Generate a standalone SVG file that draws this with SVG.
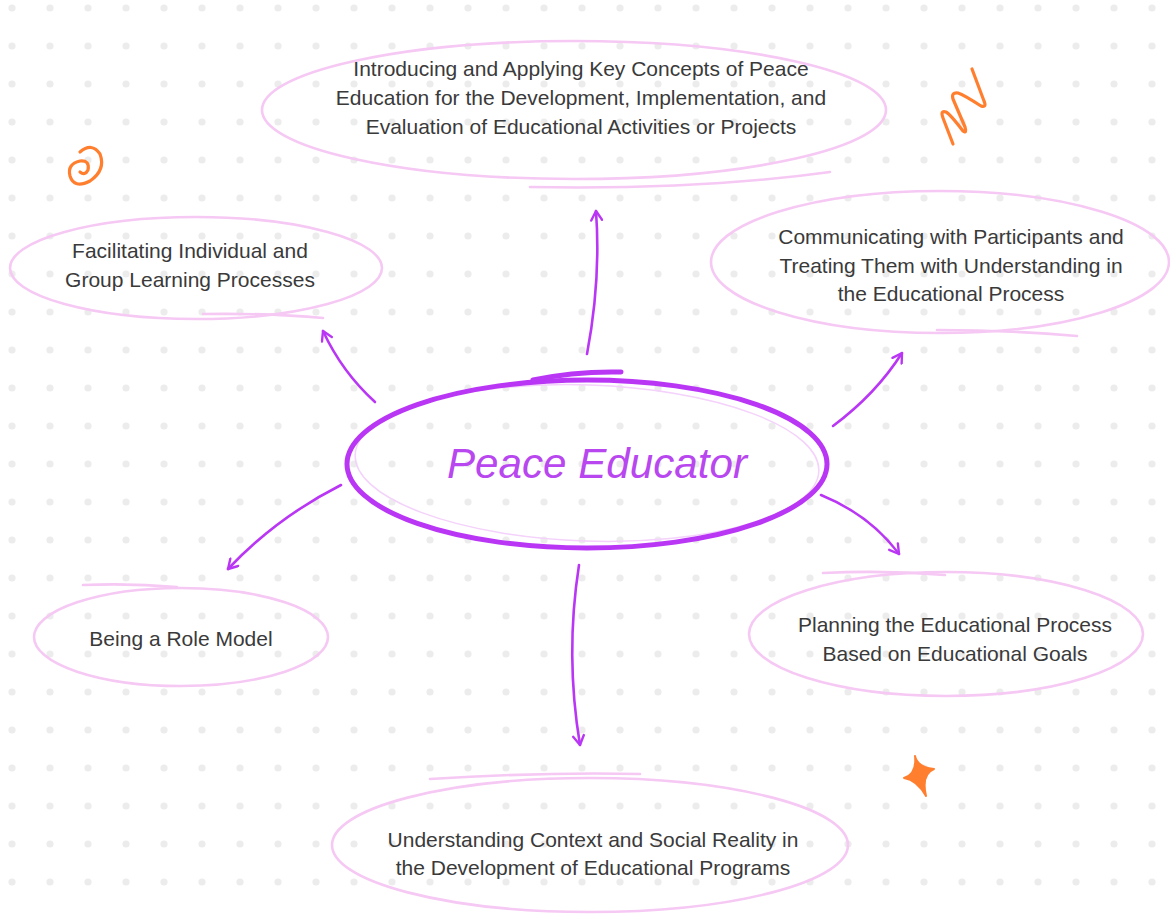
<svg xmlns="http://www.w3.org/2000/svg" width="1170" height="914" viewBox="0 0 1170 914">
<defs>
<pattern id="dots" patternUnits="userSpaceOnUse" x="-7" y="-11" width="38" height="38">
<circle cx="19" cy="19" r="3.6" fill="#ececec"/>
</pattern>
<marker id="arr" viewBox="0 0 12 12" refX="10" refY="6" markerWidth="13" markerHeight="13" markerUnits="userSpaceOnUse" orient="auto">
<path d="M1.5,1 L10,6 L1.5,11" fill="none" stroke="#b936f5" stroke-width="2.2" stroke-linecap="round" stroke-linejoin="round"/>
</marker>
<style>
.node{fill:none;stroke:#f6c8f4;stroke-width:2.6;stroke-linecap:round}
.lbl{font-family:"Liberation Sans",Arial,sans-serif;font-size:21px;fill:#3a3a3a;text-anchor:middle}
.conn{fill:none;stroke:#b936f5;stroke-width:2.6;stroke-linecap:round;marker-end:url(#arr)}
.deco{fill:none;stroke:#ff7f2f;stroke-width:3.2;stroke-linecap:round;stroke-linejoin:round}
</style>
</defs>
<rect width="1170" height="914" fill="#ffffff"/>
<rect width="1170" height="914" fill="url(#dots)"/>

<g id="decorations">
<path class="deco" d="M80,152 Q92,142 100,154 Q106,170 90,181 Q74,189 70,176 Q67,164 80,161 Q90,160 88,170 Q85,176 80,172"/>
<path class="deco" d="M953,144 L943,118 Q940,110 946,112 Q950,114 963,131 Q967,134 965,127 L953,99 Q951,92 958,93 Q964,95 981,106 Q987,108 984,101 L972,69"/>
<path d="M915,756 Q917,767 934,769 Q921,774 926,796 Q917,780 904,778 Q917,774 915,756 Z" fill="#ff7f2f" stroke="#ff7f2f" stroke-width="2" stroke-linejoin="round"/>
</g>

<g id="connectors">
<path class="conn" d="M587,354 Q601,280 596,211"/>
<path class="conn" d="M375,402 Q342,372 323,331"/>
<path class="conn" d="M833,426 Q876,394 902,353"/>
<path class="conn" d="M341,485 Q276,518 228,569"/>
<path class="conn" d="M821,495 Q870,515 899,554"/>
<path class="conn" d="M579,565 Q565,655 580,745"/>
</g>

<g id="center">
<ellipse cx="587" cy="463" rx="232" ry="78" transform="rotate(2 587 463)" fill="none" stroke="#f4d2fb" stroke-width="1.5"/>
<ellipse cx="587" cy="464" rx="240" ry="84" fill="none" stroke="#b936f5" stroke-width="5"/>
<path d="M533,380 Q575,371 621,372" fill="none" stroke="#b936f5" stroke-width="5" stroke-linecap="round"/>
<text x="597" y="478" font-family="'Liberation Sans',Arial,sans-serif" font-style="italic" font-size="42" fill="#b847f0" text-anchor="middle" textLength="300" lengthAdjust="spacingAndGlyphs">Peace Educator</text>
</g>

<g id="node-top">
<ellipse class="node" cx="574" cy="110" rx="312" ry="69"/>
<path class="node" d="M530,187 Q700,190 830,172"/>
<text class="lbl"><tspan x="581" y="76">Introducing and Applying Key Concepts of Peace</tspan><tspan x="581" y="105">Education for the Development, Implementation, and</tspan><tspan x="581" y="134">Evaluation of Educational Activities or Projects</tspan></text>
</g>

<g id="node-left">
<ellipse class="node" cx="196" cy="268" rx="186" ry="51"/>
<path class="node" d="M203,314 Q270,313 323,318"/>
<text class="lbl"><tspan x="190" y="258">Facilitating Individual and</tspan><tspan x="190" y="287">Group Learning Processes</tspan></text>
</g>

<g id="node-right">
<ellipse class="node" cx="940" cy="262" rx="229" ry="71"/>
<path class="node" d="M937,330 Q1010,330 1077,336"/>
<text class="lbl"><tspan x="951" y="244">Communicating with Participants and</tspan><tspan x="951" y="273">Treating Them with Understanding in</tspan><tspan x="951" y="301">the Educational Process</tspan></text>
</g>

<g id="node-rolemodel">
<ellipse class="node" cx="181" cy="637" rx="147" ry="49"/>
<path class="node" d="M83,585 Q130,583 177,587"/>
<text class="lbl" x="181" y="646">Being a Role Model</text>
</g>

<g id="node-planning">
<ellipse class="node" cx="946" cy="634" rx="197" ry="62"/>
<path class="node" d="M823,573 Q885,570 945,575"/>
<text class="lbl"><tspan x="955" y="632">Planning the Educational Process</tspan><tspan x="955" y="661">Based on Educational Goals</tspan></text>
</g>

<g id="node-bottom">
<ellipse class="node" cx="590" cy="845" rx="258" ry="67"/>
<path class="node" d="M430,779 Q540,772 640,774"/>
<text class="lbl"><tspan x="593" y="847">Understanding Context and Social Reality in</tspan><tspan x="593" y="875">the Development of Educational Programs</tspan></text>
</g>
</svg>
